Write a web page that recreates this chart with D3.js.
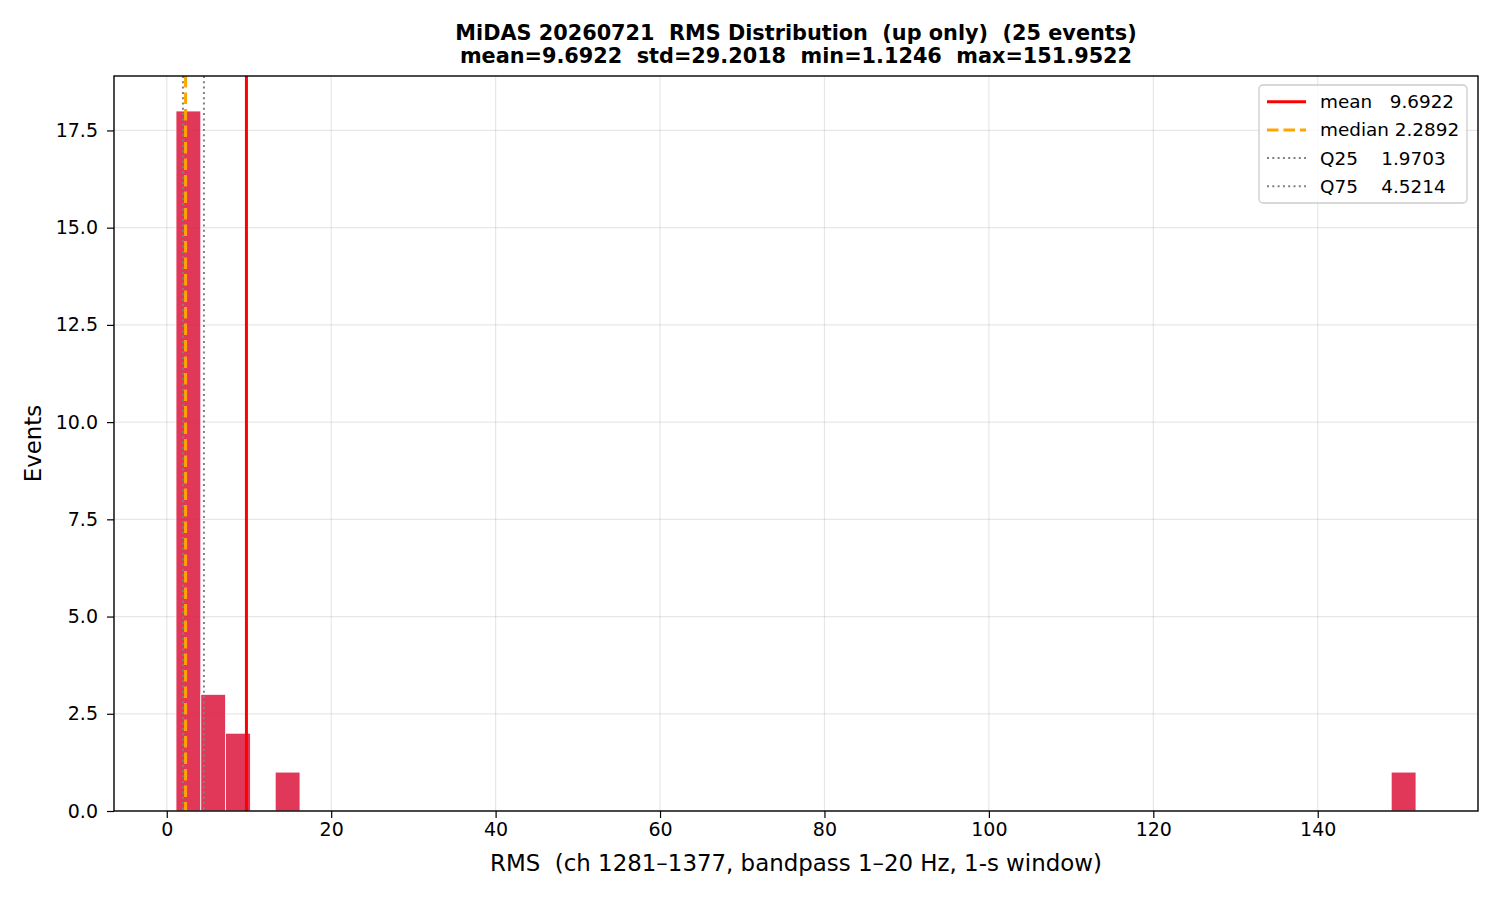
<!DOCTYPE html>
<html><head><meta charset="utf-8">
<script src="https://cdn.jsdelivr.net/npm/d3@7"></script>
<style>body{margin:0;background:#fff}text{font-family:"DejaVu Sans",sans-serif;white-space:pre}</style>
</head><body><svg id="c" width="1500" height="900"></svg>
<script>
const titleLines = ["MiDAS 20260721  RMS Distribution  (up only)  (25 events)",
                    "mean=9.6922  std=29.2018  min=1.1246  max=151.9522"];
const xLabel = "RMS  (ch 1281\u20131377, bandpass 1\u201320 Hz, 1-s window)";
const yLabel = "Events";
const rmsMin = 1.1246, rmsMax = 151.9522;
const binCounts = [18,3,2,0,1,0,0,0,0,0, 0,0,0,0,0,0,0,0,0,0, 0,0,0,0,0,0,0,0,0,0,
                   0,0,0,0,0,0,0,0,0,0, 0,0,0,0,0,0,0,0,0,1];
const xTicks = [0,20,40,60,80,100,120,140];
const yTicks = [0,2.5,5,7.5,10,12.5,15,17.5];
const statNames = ["mean","median","Q25","Q75"];
const statValues = [9.6922, 2.2892, 1.9703, 4.5214];
const statLabels = ["mean   9.6922","median 2.2892","Q25    1.9703","Q75    4.5214"];
const statColors = ["#ff0000","#ffa500","#808080","#808080"];
const statDash = [null,"11.5,5","2,3.3","2,3.3"];
const statWidth = [3,3,2,2];

const L=114,R=1478,T=76,B=811;
const svg=d3.select("#c");
const span=rmsMax-rmsMin, pad=span*0.05;
const x=d3.scaleLinear().domain([rmsMin-pad,rmsMax+pad]).range([L,R]);
const y=d3.scaleLinear().domain([0,d3.max(binCounts)*1.05]).range([B,T]);
const bw=span/binCounts.length;
const bins=binCounts.map((c,i)=>({x0:rmsMin+i*bw,x1:rmsMin+(i+1)*bw,c}));

// grid
svg.append("g").selectAll("line").data(xTicks).join("line")
 .attr("x1",d=>x(d)).attr("x2",d=>x(d)).attr("y1",T).attr("y2",B)
 .attr("stroke","#b0b0b0").attr("stroke-opacity",0.3).attr("stroke-width",1.2);
svg.append("g").selectAll("line").data(yTicks).join("line")
 .attr("y1",d=>y(d)).attr("y2",d=>y(d)).attr("x1",L).attr("x2",R)
 .attr("stroke","#b0b0b0").attr("stroke-opacity",0.3).attr("stroke-width",1.2);

// bars
svg.append("g").selectAll("rect").data(bins.filter(b=>b.c>0)).join("rect")
 .attr("x",d=>x(d.x0)).attr("width",d=>x(d.x1)-x(d.x0))
 .attr("y",d=>y(d.c)).attr("height",d=>y(0)-y(d.c))
 .attr("fill","#dc143c").attr("fill-opacity",0.85)
 .attr("stroke","#ffffff").attr("stroke-width",0.8);

// stat lines
statValues.forEach((v,i)=>{
  svg.append("line").attr("x1",x(v)).attr("x2",x(v)).attr("y1",T).attr("y2",B)
   .attr("stroke",statColors[i]).attr("stroke-width",statWidth[i])
   .attr("stroke-dasharray",statDash[i]);
});

// axes
const xa=svg.append("g").attr("transform",`translate(0,${B})`)
 .call(d3.axisBottom(x).tickValues(xTicks).tickFormat(d3.format("d")).tickSize(7).tickPadding(5));
const ya=svg.append("g").attr("transform",`translate(${L},0)`)
 .call(d3.axisLeft(y).tickValues(yTicks).tickFormat(d3.format(".1f")).tickSize(7).tickPadding(9));
[xa,ya].forEach(a=>{a.select(".domain").remove();a.attr("font-size",null).attr("font-family",null);
  a.selectAll("text").attr("font-size",19).attr("fill","#000");
  a.selectAll("line").attr("stroke","#000").attr("stroke-width",1.2);});
xa.selectAll("text").attr("dy","0.71em");
svg.append("rect").attr("x",L).attr("y",T).attr("width",R-L).attr("height",B-T)
 .attr("fill","none").attr("stroke","#000").attr("stroke-width",1.4);

// labels
svg.append("text").attr("x",(L+R)/2).attr("y",871).attr("text-anchor","middle").attr("font-size",22.9).text(xLabel);
svg.append("text").attr("transform",`translate(41,${(T+B)/2}) rotate(-90)`).attr("text-anchor","middle").attr("font-size",22.9).text(yLabel);
titleLines.forEach((t,i)=>svg.append("text").attr("x",(L+R)/2).attr("y",40+i*23).attr("text-anchor","middle")
 .attr("font-size",20.8).attr("font-weight","bold").text(t));

// legend
const lg=svg.append("g");
lg.append("rect").attr("x",1259).attr("y",85).attr("width",208).attr("height",118).attr("rx",4)
 .attr("fill","#fff").attr("fill-opacity",0.8).attr("stroke","#cccccc").attr("stroke-width",1.3);
statNames.forEach((n,i)=>{
  const yy=101.7+i*28.2;
  lg.append("line").attr("x1",1267).attr("x2",1306).attr("y1",yy).attr("y2",yy)
   .attr("stroke",statColors[i]).attr("stroke-width",statWidth[i]).attr("stroke-dasharray",statDash[i]);
  lg.append("text").attr("x",1320).attr("y",yy+6.5).attr("font-size",18.4).text(statLabels[i]);
});
</script></body></html>
